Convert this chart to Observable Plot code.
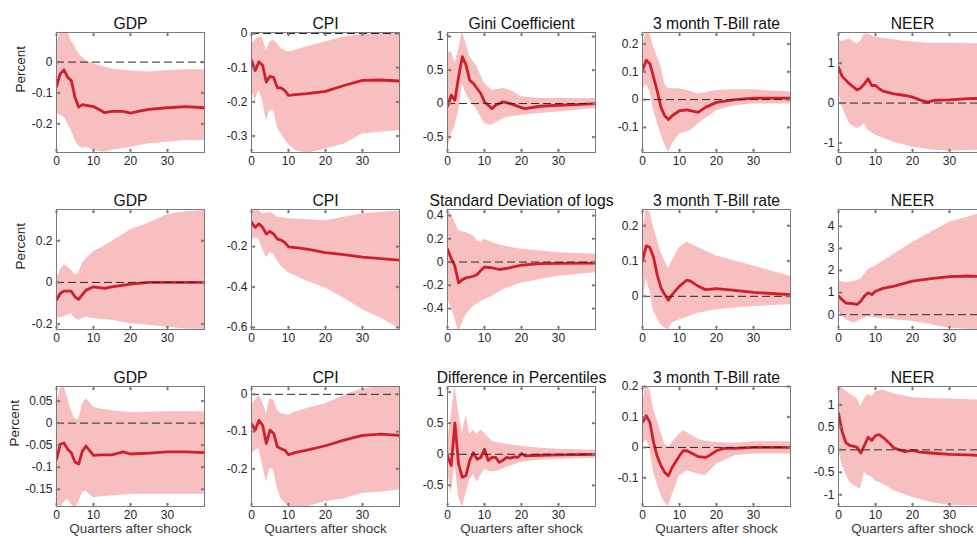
<!DOCTYPE html>
<html><head><meta charset="utf-8">
<script src="https://cdn.jsdelivr.net/npm/d3@7"></script>
<script src="https://cdn.jsdelivr.net/npm/@observablehq/plot@0.6"></script>
<style>
html,body{margin:0;padding:0;background:#fff;overflow:hidden;}
#root{position:relative;width:977px;height:545px;overflow:hidden;background:#fff;}
.panel{position:absolute;}
</style></head><body><div id="root"></div>
<script>
// ---------- DATA ----------
const rowTitles1 = ["GDP", "CPI", "Gini Coefficient", "3 month T-Bill rate", "NEER"];
const rowTitles2 = ["GDP", "CPI", "Standard Deviation of logs", "3 month T-Bill rate", "NEER"];
const rowTitles3 = ["GDP", "CPI", "Difference in Percentiles", "3 month T-Bill rate", "NEER"];
const xTicks = [0, 10, 20, 30];
const xLabel = "Quarters after shock";
const yLabel = "Percent";

// Row 1
const p11_mx = [0,1,2,3,4,5,6,7,8,10,12,13,15,18,20,22,25,30,35,40];
const p11_mid = [-0.079,-0.038,-0.025,-0.049,-0.06,-0.114,-0.146,-0.138,-0.14,-0.144,-0.157,-0.164,-0.16,-0.16,-0.165,-0.16,-0.153,-0.148,-0.144,-0.148];
const p11_bx = [0,1,2,3,4,5,6,7,8,10,13,15,20,25,30,35,40];
const p11_hi = [0.054,0.1,0.1,0.1,0.07,0.049,0.027,0.016,0.005,-0.005,-0.016,-0.022,-0.029,-0.032,-0.027,-0.025,-0.025];
const p11_lo = [-0.168,-0.172,-0.178,-0.2,-0.222,-0.254,-0.27,-0.28,-0.276,-0.286,-0.292,-0.286,-0.276,-0.265,-0.26,-0.254,-0.254];

const p12_mx = [0,1,2,3,4,5,6,7,8,9,10,12,15,20,25,30,35,40];
const p12_mid = [-0.078,-0.108,-0.083,-0.093,-0.142,-0.125,-0.129,-0.159,-0.159,-0.167,-0.181,-0.179,-0.176,-0.169,-0.152,-0.137,-0.136,-0.139];
const p12_bx = [0,1,2,3,4,5,6,7,8,10,12,15,20,25,30,35,40];
const p12_hi = [-0.03,-0.02,-0.01,-0.015,-0.049,-0.025,-0.02,-0.03,-0.044,-0.054,-0.049,-0.039,-0.025,-0.01,-0.002,0,0];
const p12_lo = [-0.167,-0.196,-0.167,-0.196,-0.255,-0.225,-0.225,-0.275,-0.294,-0.324,-0.343,-0.35,-0.338,-0.324,-0.294,-0.289,-0.284];

const p13_mx = [0,1,2,3,4,5,6,7,8,9,10,11,12,13,15,17,20,21,25,30,35,40];
const p13_mid = [-0.04,0.125,0.05,0.4,0.7,0.575,0.35,0.3,0.225,0.15,0.025,-0.025,-0.075,-0.025,0.025,0,-0.06,-0.075,-0.04,-0.025,-0.015,0];
const p13_bx = [0,1,2,3,4,5,6,8,10,12,15,17,20,25,30,35,40];
const p13_hi = [0.75,0.775,0.6,0.8,1.075,0.9,0.7,0.55,0.3,0.2,0.225,0.2,0.1,0.075,0.075,0.075,0.075];
const p13_lo = [-0.7,-0.45,-0.35,-0.1,0.3,0.15,0.05,-0.1,-0.3,-0.325,-0.225,-0.2,-0.175,-0.15,-0.125,-0.1,-0.075];

const p14_mx = [0,1,2,3,4,5,6,7,8,10,12,15,17,20,25,30,40];
const p14_mid = [0.105,0.141,0.129,0.08,0.03,-0.028,-0.058,-0.072,-0.058,-0.04,-0.037,-0.046,-0.028,-0.01,0,0.005,0.005];
const p14_bx = [0,1,2,3,5,6,7,8,10,13,15,20,25,30,40];
const p14_hi = [0.19,0.243,0.237,0.19,0.117,0.057,0.039,0.039,0.039,0.03,0.02,0.033,0.035,0.035,0.027];
const p14_lo = [0.033,0.057,0.03,-0.04,-0.124,-0.16,-0.19,-0.16,-0.124,-0.112,-0.088,-0.04,-0.022,-0.016,-0.016];

const p15_mx = [0,1,3,5,6,7,8,9,10,11,12,15,18,20,22,24,26,30,35,40];
const p15_mid = [0.9,0.67,0.48,0.33,0.38,0.48,0.61,0.44,0.44,0.36,0.3,0.23,0.19,0.15,0.08,0.025,0.07,0.08,0.11,0.12];
const p15_bx = [0,1,3,5,6,7,8,10,15,20,25,30,40];
const p15_hi = [1.57,1.55,1.61,1.48,1.55,1.73,1.73,1.65,1.58,1.53,1.5,1.5,1.48];
const p15_lo = [0.32,-0.1,-0.52,-0.64,-0.6,-0.52,-0.68,-0.81,-0.98,-1.1,-1.18,-1.2,-1.18];

// Row 2
const p21_mx = [0,1,2,4,5,6,7,8,10,12,13,15,20,25,30,40];
const p21_mid = [-0.085,-0.053,-0.042,-0.042,-0.069,-0.081,-0.058,-0.037,-0.021,-0.026,-0.029,-0.021,-0.008,0,0,0];
const p21_bx = [0,1,2,3,4,5,6,7,8,10,12,15,20,25,30,35,40];
const p21_hi = [0.011,0.06,0.084,0.076,0.06,0.035,0.044,0.092,0.113,0.148,0.165,0.197,0.253,0.285,0.326,0.339,0.345];
const p21_lo = [-0.174,-0.17,-0.166,-0.158,-0.15,-0.174,-0.182,-0.174,-0.166,-0.174,-0.178,-0.182,-0.198,-0.206,-0.215,-0.223,-0.226];

const p22_mx = [0,1,2,3,4,5,6,7,8,9,10,12,15,20,25,30,40];
const p22_mid = [-0.08,-0.105,-0.088,-0.105,-0.138,-0.125,-0.138,-0.163,-0.168,-0.18,-0.202,-0.205,-0.213,-0.23,-0.24,-0.252,-0.267];
const p22_bx = [0,1,2,3,4,5,6,7,8,10,15,20,25,30,35,40];
const p22_hi = [-0.03,-0.018,-0.022,-0.038,-0.035,-0.03,-0.04,-0.055,-0.058,-0.063,-0.068,-0.072,-0.055,-0.038,-0.03,-0.025];
const p22_lo = [-0.172,-0.155,-0.163,-0.213,-0.255,-0.23,-0.238,-0.27,-0.297,-0.33,-0.372,-0.405,-0.455,-0.513,-0.555,-0.605];

const p23_mx = [0,1,2,3,4,5,7,8,9,10,12,14,16,20,25,30,40];
const p23_mid = [0.11,0.032,-0.035,-0.18,-0.151,-0.136,-0.122,-0.107,-0.072,-0.043,-0.049,-0.064,-0.055,-0.026,-0.014,-0.012,-0.009];
const p23_bx = [0,1,2,3,4,5,7,8,9,10,12,15,20,25,30,40];
const p23_hi = [0.43,0.414,0.342,0.27,0.26,0.255,0.226,0.183,0.168,0.197,0.168,0.139,0.11,0.096,0.081,0.067];
const p23_lo = [-0.31,-0.397,-0.484,-0.6,-0.528,-0.455,-0.383,-0.36,-0.34,-0.325,-0.296,-0.238,-0.18,-0.151,-0.122,-0.093];

const p24_mx = [0,1,2,3,4,5,6,7,8,10,12,13,15,17,20,25,30,35,40];
const p24_mid = [0.1,0.143,0.138,0.11,0.06,0.024,0.005,-0.011,0.005,0.029,0.046,0.043,0.029,0.019,0.022,0.017,0.011,0.008,0.005];
const p24_bx = [0,1,2,3,5,6,7,8,10,12,15,20,25,30,35,40];
const p24_hi = [0.186,0.248,0.238,0.195,0.124,0.1,0.079,0.1,0.138,0.154,0.138,0.114,0.1,0.086,0.071,0.057];
const p24_lo = [-0.033,0.052,0.014,-0.043,-0.081,-0.09,-0.095,-0.076,-0.067,-0.06,-0.048,-0.038,-0.033,-0.029,-0.026,-0.024];

const p25_mx = [0,1,2,4,5,6,7,8,9,10,12,15,20,25,30,35,40];
const p25_mid = [0.84,0.68,0.53,0.5,0.46,0.61,0.84,0.99,0.91,1.06,1.19,1.29,1.52,1.63,1.72,1.75,1.72];
const p25_bx = [0,2,4,5,6,7,8,10,15,20,25,30,35,40];
const p25_hi = [1.52,1.44,1.5,1.55,1.6,1.83,2.05,2.2,2.74,3.27,3.73,4.18,4.41,4.64];
const p25_lo = [0.15,-0.23,-0.38,-0.33,-0.23,-0.15,-0.08,-0.15,-0.23,-0.3,-0.46,-0.61,-0.66,-0.7];

// Row 3
const p31_mx = [0,1,2,3,4,5,6,7,8,9,10,12,15,18,20,25,30,35,40];
const p31_mid = [-0.082,-0.048,-0.045,-0.059,-0.067,-0.088,-0.093,-0.063,-0.052,-0.063,-0.073,-0.072,-0.072,-0.065,-0.07,-0.068,-0.065,-0.065,-0.067];
const p31_bx = [0,1,2,3,4,5,6,7,8,9,10,12,15,20,30,40];
const p31_hi = [0.047,0.077,0.085,0.055,0.028,0.009,0.009,0.043,0.055,0.047,0.036,0.032,0.028,0.024,0.026,0.026];
const p31_lo = [-0.173,-0.195,-0.18,-0.173,-0.184,-0.195,-0.18,-0.158,-0.154,-0.162,-0.169,-0.167,-0.165,-0.161,-0.161,-0.161];

const p32_mx = [0,1,2,3,4,5,6,7,8,9,10,12,15,20,25,30,35,40];
const p32_mid = [-0.079,-0.096,-0.07,-0.083,-0.132,-0.096,-0.105,-0.141,-0.146,-0.15,-0.162,-0.156,-0.15,-0.138,-0.123,-0.11,-0.107,-0.11];
const p32_bx = [0,1,2,3,4,5,6,7,8,10,12,15,20,25,30,35,40];
const p32_hi = [-0.03,-0.016,-0.003,-0.021,-0.052,-0.012,-0.016,-0.043,-0.052,-0.056,-0.047,-0.038,-0.025,-0.003,0.015,0.02,0.022];
const p32_lo = [-0.163,-0.15,-0.146,-0.19,-0.235,-0.199,-0.204,-0.253,-0.28,-0.302,-0.305,-0.302,-0.288,-0.28,-0.266,-0.262,-0.257];

const p33_mx = [0,1,2,3,4,5,6,7,8,9,10,11,12,13,14,15,16,17,18,19,20,21,25,30,40];
const p33_mid = [-0.026,-0.18,0.5,-0.16,-0.37,-0.34,-0.1,0.026,-0.08,-0.05,0.08,-0.1,-0.05,-0.05,-0.13,-0.095,-0.05,-0.063,-0.042,-0.05,0.01,-0.026,-0.016,-0.01,0];
const p33_bx = [0,1,2,3,4,5,6,7,8,9,10,12,14,16,20,25,30,40];
const p33_hi = [0.21,0.63,1.1,0.68,0.34,0.63,0.32,0.39,0.32,0.39,0.34,0.21,0.18,0.16,0.13,0.095,0.08,0.063];
const p33_lo = [-0.26,-0.63,-0.16,-0.68,-0.85,-0.63,-0.42,-0.32,-0.45,-0.34,-0.24,-0.29,-0.26,-0.21,-0.13,-0.095,-0.08,-0.063];

const p34_mx = [0,1,2,3,4,5,6,7,8,10,11,12,15,17,18,20,22,25,30,40];
const p34_mid = [0.082,0.104,0.082,0.016,-0.03,-0.06,-0.082,-0.093,-0.066,-0.027,-0.011,-0.011,-0.03,-0.033,-0.027,-0.011,-0.003,-0.003,0,0];
const p34_bx = [0,1,2,3,5,6,7,8,10,11,12,15,17,20,25,30,40];
const p34_hi = [0.148,0.205,0.19,0.126,0.049,0.011,0,0.016,0.044,0.055,0.049,0.027,0.02,0.016,0.014,0.019,0.019];
const p34_lo = [0.005,0.027,-0.005,-0.082,-0.158,-0.18,-0.195,-0.158,-0.093,-0.085,-0.077,-0.087,-0.093,-0.055,-0.027,-0.022,-0.022];

const p35_mx = [0,1,2,3,5,6,7,8,9,10,11,12,14,15,18,20,22,25,30,35,40];
const p35_mid = [0.81,0.4,0.16,0.1,0.06,-0.07,0.1,0.28,0.21,0.32,0.34,0.28,0.13,0.04,-0.04,-0.01,-0.05,-0.07,-0.1,-0.11,-0.14];
const p35_bx = [0,1,3,5,6,7,8,9,10,12,15,20,25,30,40];
const p35_hi = [1.44,1.37,1.25,1.14,0.96,1.14,1.23,1.18,1.29,1.33,1.25,1.16,1.14,1.13,1.1];
const p35_lo = [0.02,-0.35,-0.72,-0.84,-0.87,-0.5,-0.57,-0.6,-0.69,-0.76,-0.91,-1.06,-1.17,-1.23,-1.25];

// y-axis ranges and ticks, per row
const yDom1 = [[-0.293,0.096],[-0.348,0.003],[-0.73,1.06],[-0.19,0.241],[-1.24,1.77]];
const yDom2 = [[-0.226,0.35],[-0.61,-0.017],[-0.58,0.452],[-0.094,0.246],[-0.67,4.76]];
const yDom3 = [[-0.189,0.083],[-0.301,0.021],[-0.84,1.09],[-0.194,0.2],[-1.26,1.41]];
const yTk1 = [[-0.2,-0.1,0],[-0.3,-0.2,-0.1,0],[-0.5,0,0.5,1],[-0.1,0,0.1,0.2],[-1,0,1]];
const yTk2 = [[-0.2,0,0.2],[-0.6,-0.4,-0.2],[-0.4,-0.2,0,0.2,0.4],[0,0.1,0.2],[0,1,2,3,4]];
const yTk3 = [[-0.15,-0.1,-0.05,0,0.05],[-0.2,-0.1,0],[-0.5,0,0.5,1],[-0.1,0,0.1,0.2],[-1,-0.5,0,0.5,1]];

// ---------- LAYOUT / STYLE ----------
const colLefts = [56, 251, 447, 642, 838];
const rowTops = [32, 209, 386];
const FW = 148, FH = 120;
const ML = 60, MR = 12, MT = 28, MB = 40;
const FONT = "'Liberation Sans', Arial, Helvetica, sans-serif";
const BAND = "#f7bfbf", LINE = "#cf1f2a", AXIS = "#7a7a7a", TXT = "#262626";
const yLabelDx = [-36, -36, -42];

const series = [
  [[p11_mx,p11_mid,p11_bx,p11_lo,p11_hi],[p12_mx,p12_mid,p12_bx,p12_lo,p12_hi],[p13_mx,p13_mid,p13_bx,p13_lo,p13_hi],[p14_mx,p14_mid,p14_bx,p14_lo,p14_hi],[p15_mx,p15_mid,p15_bx,p15_lo,p15_hi]],
  [[p21_mx,p21_mid,p21_bx,p21_lo,p21_hi],[p22_mx,p22_mid,p22_bx,p22_lo,p22_hi],[p23_mx,p23_mid,p23_bx,p23_lo,p23_hi],[p24_mx,p24_mid,p24_bx,p24_lo,p24_hi],[p25_mx,p25_mid,p25_bx,p25_lo,p25_hi]],
  [[p31_mx,p31_mid,p31_bx,p31_lo,p31_hi],[p32_mx,p32_mid,p32_bx,p32_lo,p32_hi],[p33_mx,p33_mid,p33_bx,p33_lo,p33_hi],[p34_mx,p34_mid,p34_bx,p34_lo,p34_hi],[p35_mx,p35_mid,p35_bx,p35_lo,p35_hi]]
];
const titles = [rowTitles1, rowTitles2, rowTitles3];
const yDoms = [yDom1, yDom2, yDom3];
const yTks = [yTk1, yTk2, yTk3];
const fmt = d => String(d);

const root = document.getElementById("root");
for (let r = 0; r < 3; r++) {
  for (let c = 0; c < 5; c++) {
    const [mx, mid, bx, lo, hi] = series[r][c];
    const band = bx.map((x, i) => ({x, lo: lo[i], hi: hi[i]}));
    const mean = mx.map((x, i) => ({x, y: mid[i]}));
    const yt = yTks[r][c];
    const marks = [
      Plot.areaY(band, {x: "x", y1: "lo", y2: "hi", fill: BAND, clip: true}),
      Plot.line(mean, {x: "x", y: "y", stroke: LINE, strokeWidth: 2.8, clip: true}),
      Plot.ruleY([0], {stroke: "#2a2a2a", strokeDasharray: "8,4", strokeWidth: 1, clip: true}),
      Plot.frame({stroke: AXIS}),
      Plot.vector(xTicks, {x: d => d, frameAnchor: "bottom", length: 3, rotate: 0, anchor: "start", stroke: AXIS}),
      Plot.vector(xTicks, {x: d => d, frameAnchor: "top", length: 3, rotate: 180, anchor: "start", stroke: AXIS}),
      Plot.vector(yt, {y: d => d, frameAnchor: "left", length: 3, rotate: 90, anchor: "start", stroke: AXIS}),
      Plot.vector(yt, {y: d => d, frameAnchor: "right", length: 3, rotate: 270, anchor: "start", stroke: AXIS}),
      Plot.axisX({ticks: xTicks, tickSize: 0, tickPadding: 4, tickFormat: fmt, label: null, fill: TXT, fontSize: 12, fontFamily: FONT}),
      Plot.axisY({ticks: yt, tickSize: 0, tickPadding: 4, tickFormat: fmt, label: null, fill: TXT, fontSize: 12, fontFamily: FONT}),
      Plot.text([titles[r][c]], {frameAnchor: "top", dy: -15, fontSize: 15.7, fontFamily: FONT, fill: "#111"})
    ];
    if (c === 0) marks.push(Plot.text([yLabel], {frameAnchor: "left", dx: yLabelDx[r], rotate: -90, fontSize: 13.5, fontFamily: FONT, fill: TXT}));
    if (r === 2) marks.push(Plot.text([xLabel], {frameAnchor: "bottom", dy: 26, fontSize: 13.5, fontFamily: FONT, fill: "#3a3a3a"}));
    const svg = Plot.plot({
      width: ML + FW + MR, height: MT + FH + MB,
      marginLeft: ML, marginRight: MR, marginTop: MT, marginBottom: MB,
      x: {domain: [0, 40]},
      y: {domain: yDoms[r][c]},
      style: {background: "transparent", overflow: "visible", fontFamily: FONT, fontSize: "12px", color: TXT, maxWidth: "none"},
      marks
    });
    const div = document.createElement("div");
    div.className = "panel";
    div.style.left = (colLefts[c] - ML) + "px";
    div.style.top = (rowTops[r] - MT) + "px";
    div.appendChild(svg);
    root.appendChild(div);
  }
}
</script></body></html>
